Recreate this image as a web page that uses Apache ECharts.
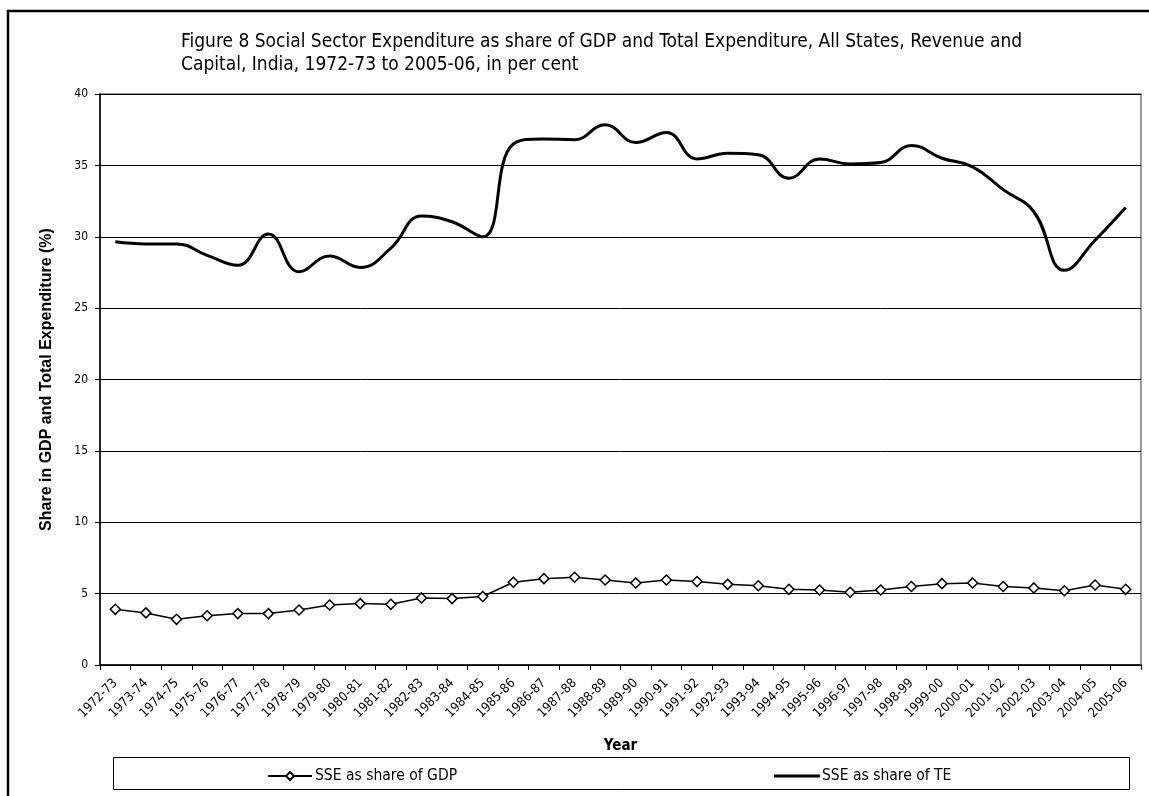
<!DOCTYPE html>
<html>
<head>
<meta charset="utf-8">
<style>
  html, body { margin: 0; padding: 0; background: #fff; }
  #chart { width: 1149px; height: 796px; }
</style>
<script src="https://cdn.jsdelivr.net/npm/echarts@6/dist/echarts.min.js"></script>
</head>
<body>
<div id="chart"></div>
<script>
// Fiscal years on the category axis
const years = [
  '1972-73','1973-74','1974-75','1975-76','1976-77','1977-78','1978-79','1979-80',
  '1980-81','1981-82','1982-83','1983-84','1984-85','1985-86','1986-87','1987-88',
  '1988-89','1989-90','1990-91','1991-92','1992-93','1993-94','1994-95','1995-96',
  '1996-97','1997-98','1998-99','1999-00','2000-01','2001-02','2002-03','2003-04',
  '2004-05','2005-06'
];

// Social sector expenditure as % of GDP
const sseShareGDP = [
  3.9, 3.65, 3.2, 3.45, 3.6, 3.6, 3.85, 4.2, 4.3, 4.25, 4.7, 4.65, 4.8,
  5.8, 6.05, 6.15, 5.95, 5.75, 5.95, 5.85, 5.65, 5.55, 5.3, 5.25, 5.1,
  5.25, 5.5, 5.7, 5.75, 5.5, 5.4, 5.2, 5.6, 5.3
];

// Social sector expenditure as % of total expenditure
const sseShareTE = [
  29.65, 29.5, 29.5, 28.7, 28.0, 30.2, 27.55, 28.65, 27.85, 29.2, 31.45, 31.05, 30.0,
  36.5, 36.85, 36.8, 37.85, 36.6, 37.3, 35.45, 35.85, 35.75, 34.1, 35.45, 35.1,
  35.2, 36.4, 35.5, 34.9, 33.3, 31.75, 27.65, 29.75, 32.05
];

const seriesNames = ['SSE as share of GDP', 'SSE as share of TE'];
const titleText = 'Figure 8 Social Sector Expenditure as share of GDP and Total Expenditure, All States, Revenue and\nCapital, India, 1972-73 to 2005-06, in per cent';

const narrow = "'Liberation Sans Narrow', 'Arial Narrow', 'DejaVu Sans Condensed', sans-serif";
const regular = "'Liberation Sans', Arial, sans-serif";

const chart = echarts.init(document.getElementById('chart'), null, { renderer: 'canvas' });

chart.setOption({
  backgroundColor: '#ffffff',
  animation: false,
  title: {
    text: titleText,
    left: 176,
    top: 26,
    textStyle: {
      fontFamily: narrow,
      fontSize: 19,
      fontWeight: 'normal',
      color: '#000',
      lineHeight: 23
    }
  },
  graphic: [
    {
      type: 'rect',
      shape: { x: 8, y: 11, width: 1200, height: 900 },
      style: { fill: 'none', stroke: '#000', lineWidth: 2.5 },
      silent: true
    },
    {
      type: 'rect',
      shape: { x: 113.5, y: 757.5, width: 1016, height: 32 },
      style: { fill: 'none', stroke: '#000', lineWidth: 1 },
      silent: true
    }
  ],
  legend: [
    {
      data: [seriesNames[0]],
      left: 262,
      top: 763,
      itemWidth: 44,
      itemHeight: 10,
      itemGap: 4,
      textStyle: { fontFamily: narrow, fontSize: 15.5, color: '#000', padding: [0, 0, 0, -2] }
    },
    {
      data: [{ name: seriesNames[1], icon: 'rect' }],
      left: 769,
      top: 763,
      itemWidth: 46,
      itemHeight: 3,
      textStyle: { fontFamily: narrow, fontSize: 15.5, color: '#000', padding: [0, 0, 0, -3] }
    }
  ],
  grid: {
    left: 100,
    right: 8,
    top: 94,
    bottom: 131,
    show: true,
    borderColor: '#7a7a7a',
    borderWidth: 1.5
  },
  xAxis: {
    type: 'category',
    data: years,
    boundaryGap: true,
    name: 'Year',
    nameLocation: 'middle',
    nameGap: 74,
    nameTextStyle: { fontFamily: narrow, fontSize: 15, fontWeight: 'bold', color: '#000' },
    axisLine: { lineStyle: { color: '#000', width: 1.5 } },
    axisTick: { show: true, length: 5, lineStyle: { color: '#000' } },
    axisLabel: {
      interval: 0,
      rotate: 45,
      margin: 16,
      fontFamily: narrow,
      fontSize: 13,
      color: '#000'
    },
    splitLine: { show: false }
  },
  yAxis: {
    type: 'value',
    min: 0,
    max: 40,
    interval: 5,
    name: 'Share in GDP and Total Expenditure (%)',
    nameLocation: 'middle',
    nameGap: 45,
    nameTextStyle: { fontFamily: regular, fontSize: 16, fontWeight: 'bold', color: '#000' },
    axisLine: { show: true, lineStyle: { color: '#000', width: 1.5 } },
    axisTick: { show: true, length: 5, lineStyle: { color: '#000' } },
    axisLabel: { margin: 12, fontFamily: narrow, fontSize: 12, color: '#000' },
    splitLine: { show: true, lineStyle: { color: '#000', width: 1 } }
  },
  series: [
    {
      name: seriesNames[0],
      type: 'line',
      data: sseShareGDP,
      symbol: 'diamond',
      symbolSize: 10,
      itemStyle: { color: '#fff', borderColor: '#000', borderWidth: 1.5 },
      lineStyle: { color: '#000', width: 1.5 },
      z: 3
    },
    {
      name: seriesNames[1],
      type: 'line',
      data: sseShareTE,
      symbol: 'none',
      smooth: 0.45,
      itemStyle: { color: '#000' },
      lineStyle: { color: '#000', width: 3 },
      z: 2
    }
  ]
});
</script>
</body>
</html>
